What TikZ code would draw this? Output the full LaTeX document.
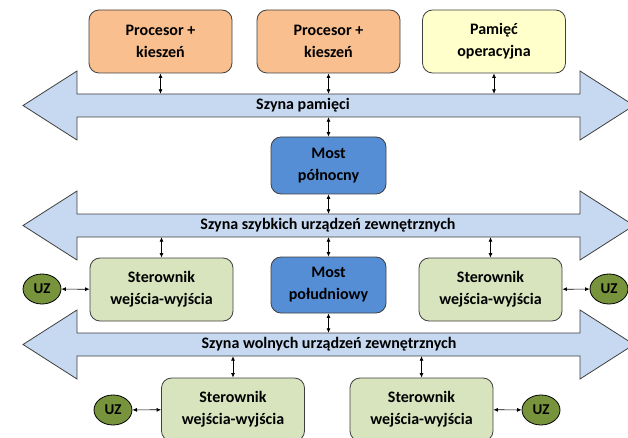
\documentclass[tikz,border=0pt]{standalone}
\usepackage{fontspec}
\setmainfont{Carlito}
\usetikzlibrary{calc,arrows.meta,positioning,shapes.geometric}
\definecolor{cpu}{HTML}{F9BF8F}
\definecolor{mem}{HTML}{FFFFCC}
\definecolor{most}{HTML}{558ED5}
\definecolor{ster}{HTML}{D7E4BD}
\definecolor{uzc}{HTML}{77933C}
\definecolor{szyna}{HTML}{C6D9F1}
\definecolor{ramka}{HTML}{3F3F3F}

\begin{document}
\begin{tikzpicture}[x={(1pt,0pt)},y={(0pt,-1pt)},
  font=\fontsize{16}{22}\selectfont\bfseries,
  blok/.style={draw=ramka,line width=0.8pt,rounded corners=10pt,align=center,
    minimum width=143pt,minimum height=63pt,inner sep=0pt},
  most/.style={blok,fill=most,minimum width=115pt,minimum height=57pt},
  ster/.style={blok,fill=ster},
  uz/.style={ellipse,draw=black,line width=0.8pt,fill=uzc,minimum width=38pt,
    minimum height=30pt,inner sep=0pt,font=\fontsize{15}{17}\selectfont\bfseries},
  pol/.style={<->,>={Latex[length=4.5pt,width=4pt]},line width=0.7pt},
  shaft/.style={minimum width=503pt,minimum height=23pt,inner sep=0pt}]
\useasboundingbox (0,0) rectangle (628,438);
\clip (0,0) rectangle (628,438);

% szyny
\foreach \y/\n/\lx/\t in {105.5/sp/303/{Szyna pamięci},
    225.5/ss/328/{Szyna szybkich urządzeń zewnętrznych},
    344.5/sw/329/{Szyna wolnych urządzeń zewnętrznych}}{
  \draw[fill=szyna,draw=ramka,line width=0.8pt] (23,\y) -- (77,{\y-34.5}) -- (77,{\y-11.5})
    -- (580,{\y-11.5}) -- (580,{\y-34.5}) -- (634,\y) -- (580,{\y+34.5})
    -- (580,{\y+11.5}) -- (77,{\y+11.5}) -- (77,{\y+34.5}) -- cycle;
  \node[shaft] (\n) at (328.5,\y) {};
  \node (\n-t) at (\lx,\y) {\t};
}

\node[blok,fill=cpu] (p1) at (160.5,41.5) {Procesor +\\kieszeń};
\node[blok,fill=cpu] (p2) at (328.5,41.5) {Procesor +\\kieszeń};
\node[blok,fill=mem] (pam) at (494,41.5) {Pamięć\\operacyjna};
\node[most] (mn) at (328.5,165.5) {Most\\północny};
\node[most,minimum height=56pt] (mpd) at (328.5,285) {Most\\południowy};
\node[ster] (s1) at (161.5,289.5) {Sterownik\\wejścia-wyjścia};
\node[ster] (s2) at (490.5,289.5) {Sterownik\\wejścia-wyjścia};
\node[ster] (s3) at (233,409.5) {Sterownik\\wejścia-wyjścia};
\node[ster] (s4) at (421.5,409.5) {Sterownik\\wejścia-wyjścia};
\node[uz] (uz1) at (42,289) {UZ};
\node[uz] (uz2) at (609,289) {UZ};
\node[uz] (uz3) at (113,410) {UZ};
\node[uz] (uz4) at (541,410) {UZ};

\draw[pol] (p1.south) -- (p1.south |- sp.north);
\draw[pol] (p2.south) -- (p2.south |- sp.north);
\draw[pol] (pam.south) -- (pam.south |- sp.north);
\draw[pol] (mn.north |- sp.south) -- (mn.north);
\draw[pol] (mn.south) -- (mn.south |- ss.north);
\draw[pol] (s1.north |- ss.south) -- (s1.north);
\draw[pol] (mpd.north |- ss.south) -- (mpd.north);
\draw[pol] (s2.north |- ss.south) -- (s2.north);
\draw[pol] (mpd.south) -- (mpd.south |- sw.north);
\draw[pol] (s3.north |- sw.south) -- (s3.north);
\draw[pol] (s4.north |- sw.south) -- (s4.north);
\draw[pol] (uz1) -- (s1);
\draw[pol] (s2) -- (uz2);
\draw[pol] (uz3) -- (s3);
\draw[pol] (s4) -- (uz4);
\end{tikzpicture}
\end{document}
